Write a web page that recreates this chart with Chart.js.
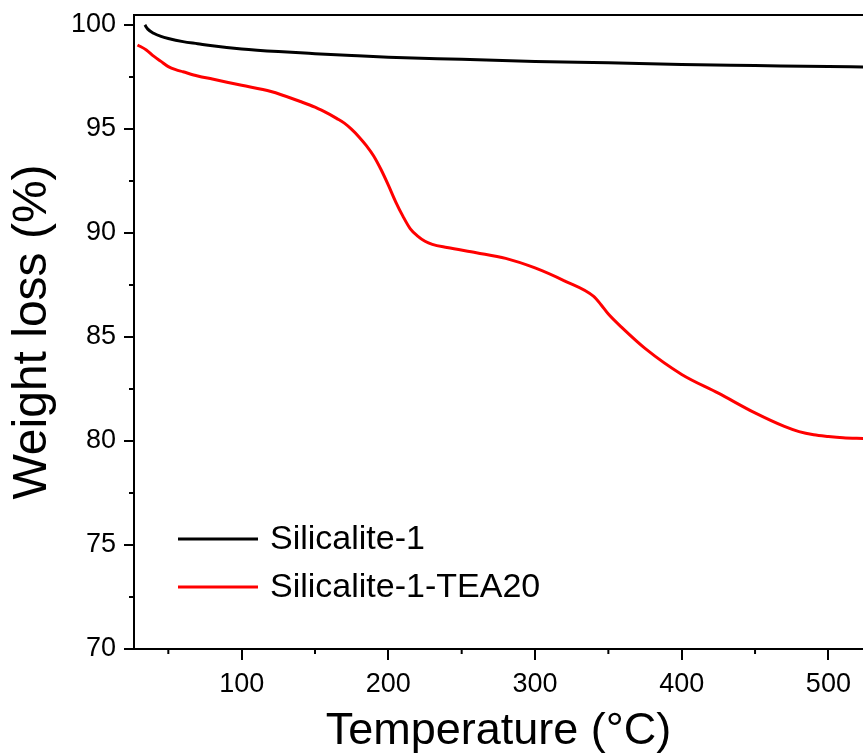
<!DOCTYPE html>
<html>
<head>
<meta charset="utf-8">
<script src="https://cdn.jsdelivr.net/npm/chart.js@4.4.1/dist/chart.umd.min.js"></script>
<style>
  html, body { margin: 0; padding: 0; background: #fff; }
  #wrap { width: 863px; height: 754px; }
</style>
</head>
<body>
<div id="wrap"><canvas id="tga"></canvas></div>
<script>
// Silicalite-1
const tempS1 = [34, 36, 40, 45, 50, 60, 70, 80, 100, 125, 150, 175, 200, 250, 300, 350, 400, 450, 500, 524];
const weightS1 = [100.0, 99.8, 99.6, 99.45, 99.35, 99.2, 99.1, 99.0, 98.85, 98.72, 98.62, 98.53, 98.45, 98.35, 98.25, 98.18, 98.1, 98.05, 98.0, 97.98];

// Silicalite-1-TEA20
const tempTEA = [29, 35, 40, 45, 50, 55, 60, 70, 80, 100, 120, 140, 150, 160, 165, 170, 175, 180, 185, 190, 195, 200, 205, 210, 215, 220, 225, 230, 240, 260, 280, 300, 320, 340, 345, 350, 360, 375, 400, 425, 450, 470, 480, 490, 500, 510, 524];
const weightTEA = [99.04, 98.8, 98.5, 98.25, 98.0, 97.85, 97.75, 97.55, 97.4, 97.1, 96.8, 96.32, 96.05, 95.7, 95.5, 95.28, 94.98, 94.62, 94.2, 93.7, 93.05, 92.3, 91.5, 90.8, 90.2, 89.85, 89.6, 89.45, 89.3, 89.05, 88.78, 88.32, 87.7, 86.95, 86.55, 86.1, 85.4, 84.45, 83.2, 82.3, 81.35, 80.7, 80.45, 80.3, 80.22, 80.16, 80.12];

const seriesNames = ['Silicalite-1', 'Silicalite-1-TEA20'];
const xTicks = [100, 200, 300, 400, 500];
const xMinor = [50, 150, 250, 350, 450];
const yTicks = [70, 75, 80, 85, 90, 95, 100];
const yMinor = [72.5, 77.5, 82.5, 87.5, 92.5, 97.5];

const FONT = '"Liberation Sans", Arial, sans-serif';

const toPts = (xs, ys) => xs.map((x, i) => ({ x: x, y: ys[i] }));

// frame top line, minor ticks, legend inside plot
const extras = {
  id: 'extras',
  afterDraw(chart) {
    const c = chart.ctx;
    const a = chart.chartArea;
    const sx = chart.scales.x, sy = chart.scales.y;
    c.save();
    c.strokeStyle = '#000';
    c.lineWidth = 2;
    c.beginPath();
    c.moveTo(a.left - 1, a.top);
    c.lineTo(a.right, a.top);
    c.stroke();

    xMinor.forEach(v => {
      const px = sx.getPixelForValue(v);
      c.beginPath();
      c.moveTo(px, a.bottom);
      c.lineTo(px, a.bottom + 5);
      c.stroke();
    });
    yMinor.forEach(v => {
      const py = sy.getPixelForValue(v);
      c.beginPath();
      c.moveTo(a.left, py);
      c.lineTo(a.left - 5, py);
      c.stroke();
    });

    // legend
    c.font = '34px ' + FONT;
    c.textBaseline = 'middle';
    c.fillStyle = '#000';
    chart.data.datasets.forEach((ds, i) => {
      const y = a.top + 524 + i * 48;
      c.strokeStyle = ds.borderColor;
      c.lineWidth = 3;
      c.beginPath();
      c.moveTo(a.left + 44, y);
      c.lineTo(a.left + 124, y);
      c.stroke();
      c.fillText(ds.label, a.left + 136, y + 1);
    });
    c.restore();
  }
};

new Chart(document.getElementById('tga'), {
  type: 'line',
  data: {
    datasets: [
      {
        label: seriesNames[0],
        data: toPts(tempS1, weightS1),
        borderColor: '#000000',
        borderWidth: 3,
        pointRadius: 0,
        cubicInterpolationMode: 'monotone'
      },
      {
        label: seriesNames[1],
        data: toPts(tempTEA, weightTEA),
        borderColor: '#ff0000',
        borderWidth: 3,
        pointRadius: 0,
        cubicInterpolationMode: 'monotone'
      }
    ]
  },
  options: {
    responsive: true,
    maintainAspectRatio: false,
    animation: false,
    layout: { padding: { top: 15, right: 0, left: 0, bottom: 0 } },
    plugins: {
      legend: { display: false },
      tooltip: { enabled: false }
    },
    scales: {
      x: {
        type: 'linear',
        min: 26.6,
        max: 523.6,
        afterBuildTicks: s => { s.ticks = xTicks.map(v => ({ value: v })); },
        afterFit: s => { s.height = 105; s.paddingLeft = 0; s.paddingRight = 0; },
        border: { display: true, color: '#000', width: 2 },
        grid: { drawOnChartArea: false, drawTicks: true, tickLength: 11, color: '#000', lineWidth: 2 },
        ticks: { color: '#000', font: { family: FONT, size: 27 }, padding: 8, maxRotation: 0 },
        title: { display: true, text: 'Temperature (°C)', color: '#000', font: { family: FONT, size: 45, lineHeight: 1 }, padding: { top: 0, bottom: 0 } }
      },
      y: {
        type: 'linear',
        min: 70,
        max: 100.48,
        afterBuildTicks: s => { s.ticks = yTicks.map(v => ({ value: v })); },
        afterFit: s => { s.width = 134; s.paddingTop = 0; s.paddingBottom = 0; },
        border: { display: true, color: '#000', width: 2 },
        grid: { drawOnChartArea: false, drawTicks: true, tickLength: 10, color: '#000', lineWidth: 2 },
        ticks: { color: '#000', font: { family: FONT, size: 27 }, padding: 8 },
        title: { display: true, text: 'Weight loss (%)', color: '#000', font: { family: FONT, size: 48 }, padding: { top: 4, bottom: 0 } }
      }
    }
  },
  plugins: [extras]
});
</script>
</body>
</html>
